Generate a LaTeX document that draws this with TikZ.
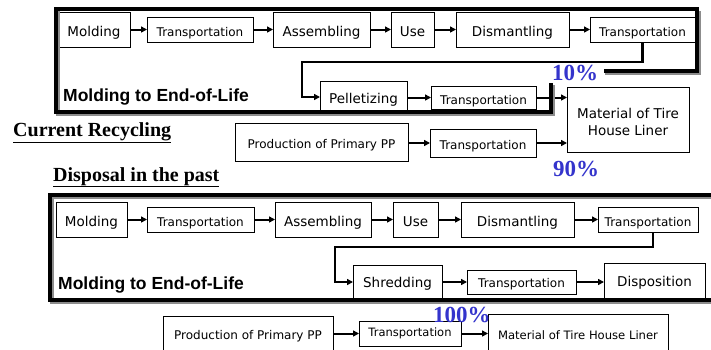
\documentclass[tikz,border=0pt]{standalone}
\usepackage{fontspec}
\setmainfont{Liberation Serif}
\setsansfont{DejaVu Sans}
\newfontfamily\arialfont{Liberation Sans}
\usetikzlibrary{arrows.meta}
\definecolor{pctblue}{RGB}{52,52,204}
\tikzset{
  basebox/.style={draw=black, line width=1pt, inner sep=0pt, outer sep=0pt, anchor=north west},
  box/.style={basebox, text height=13pt, text depth=0pt, font=\sffamily\fontsize{13.5}{17}\selectfont},
  smallbox/.style={box, font=\sffamily\fontsize{12}{14}\selectfont},
  mbox/.style={basebox, align=center, font=\sffamily\fontsize{13.5}{17}\selectfont},
  bbox/.style={basebox, align=center, font=\sffamily\fontsize{12}{14}\selectfont},
  arr/.style={line width=2pt, -{Triangle[length=6pt,width=6pt]}},
  conn/.style={line width=2.2pt, -{Triangle[length=6pt,width=6pt]}},
  frame/.style={line width=4pt, draw=black},
  shadowframe/.style={line width=4pt, draw=black!45},
  pct/.style={text=pctblue, font=\bfseries\fontsize{23}{25}\selectfont, inner sep=0pt, anchor=base west},
  heading/.style={font=\bfseries\fontsize{20}{22}\selectfont, inner sep=0pt, anchor=base west},
  lifelabel/.style={font=\arialfont\bfseries\fontsize{17.5}{20}\selectfont, inner sep=0pt, anchor=west},
}
\begin{document}
\begin{tikzpicture}[x=1pt,y=-1pt]
\useasboundingbox[fill=white] (0,0) rectangle (711,349);

% ===== Current recycling =====
\node[box, minimum width=72, minimum height=35] (m1) at (58,12) {Molding};
\node[smallbox, minimum width=106, minimum height=25] (t1) at (147,17) {Transportation};
\node[box, minimum width=97, minimum height=35] (a1) at (273,12) {Assembling};
\node[box, minimum width=43, minimum height=35] (u1) at (391,12) {Use};
\node[box, minimum width=113, minimum height=35] (d1) at (456,12) {Dismantling};
\node[smallbox, minimum width=105, minimum height=25] (t2) at (590,17) {Transportation};

\node[box, minimum width=87, minimum height=32] (p1) at (320,81) {Pelletizing};
\node[smallbox, minimum width=105, minimum height=23] (t3) at (431,86) {Transportation};
\node[mbox, minimum width=122, minimum height=65] (mat1) at (567,87) {\rule{0pt}{16pt}Material of Tire\\House Liner};

\node[smallbox, text height=12pt, minimum width=173, minimum height=38] (pp1) at (235,123) {Production of Primary PP};
\node[smallbox, text height=12pt, minimum width=106, minimum height=28] (t4) at (430,129) {Transportation};

\draw[arr] (m1) -- (t1);
\draw[arr] (t1) -- (a1);
\draw[arr] (a1) -- (u1);
\draw[arr] (u1) -- (d1);
\draw[arr] (d1) -- (t2);
\coordinate (c1) at (302,62);
\draw[conn] (t2.south) |- (c1) |- (p1.west);
\draw[arr] (p1.east |- t3.west) -- (t3.west);
\draw[arr] (t3.east) -- (mat1.west |- t3.east);
\draw[arr] (pp1.east |- t4.west) -- (t4.west);
\draw[arr] (t4.east) -- (mat1.west |- t4.east);

\draw[shadowframe] (605,73) -- (699,73) -- (699,11);
\draw[shadowframe] (58,11) -- (58,114) -- (553,114) -- (553,85);
\draw[frame] (604,71) -- (697,71) -- (697,9) -- (56,9) -- (56,112) -- (551,112) -- (551,83);

\node[lifelabel] (lab1) at (63,97) {Molding to End-of-Life};
\node[heading] (h1) at (13,136) {\underline{Current Recycling}};
\node[pct] (p10) at (552,80) {10\%};
\node[pct] (p90) at (553,176) {90\%};

% ===== Disposal in the past =====
\node[heading] (h2) at (53,181) {\underline{Disposal in the past}};

\node[box, minimum width=71, minimum height=35] (m2) at (56,202) {Molding};
\node[smallbox, minimum width=107, minimum height=25] (tb1) at (147,207) {Transportation};
\node[box, minimum width=96, minimum height=35] (a2) at (275,202) {Assembling};
\node[box, minimum width=45, minimum height=35] (u2) at (393,202) {Use};
\node[box, minimum width=113, minimum height=35] (d2) at (461,202) {Dismantling};
\node[smallbox, minimum width=100, minimum height=25] (tb2) at (598,207) {Transportation};

\node[box, text height=11pt, minimum width=89, minimum height=34] (s2) at (353,265) {Shredding};
\node[smallbox, text height=11pt, minimum width=109, minimum height=24] (tb3) at (467,270) {Transportation};
\node[box, text height=11pt, minimum width=101, minimum height=36] (dp2) at (604,263) {Disposition};

\draw[arr] (m2) -- (tb1);
\draw[arr] (tb1) -- (a2);
\draw[arr] (a2) -- (u2);
\draw[arr] (u2) -- (d2);
\draw[arr] (d2) -- (tb2);
\coordinate (c2) at (335,247);
\draw[conn] ([xshift=5pt]tb2.south) |- (c2) |- (s2.west);
\draw[arr] (s2.east |- tb3.west) -- (tb3.west);
\draw[arr] (tb3.east) -- (dp2.west |- tb3.east);

\draw[shadowframe] (716,197) -- (52,197) -- (52,302) -- (716,302);
\draw[frame] (716,195) -- (50,195) -- (50,300) -- (716,300);

\node[lifelabel] (lab2) at (58,285) {Molding to End-of-Life};

% bottom row
\node[bbox, minimum width=170, minimum height=40] (pp2) at (163,316) {\raisebox{1pt}{Production of Primary PP}};
\node[bbox, font=\sffamily\fontsize{11.5}{14}\selectfont, minimum width=102, minimum height=25] (tb4) at (359,321) {Transportation};
\node[bbox, font=\sffamily\fontsize{11.6}{14}\selectfont, minimum width=180, minimum height=42] (mat2) at (488,314) {Material of Tire House Liner};
\draw[arr] (pp2.east |- tb4.west) -- (tb4.west);
\draw[arr] (tb4.east) -- (mat2.west |- tb4.east);
\node[pct] (p100) at (433,322) {100\%};
\end{tikzpicture}
\end{document}
